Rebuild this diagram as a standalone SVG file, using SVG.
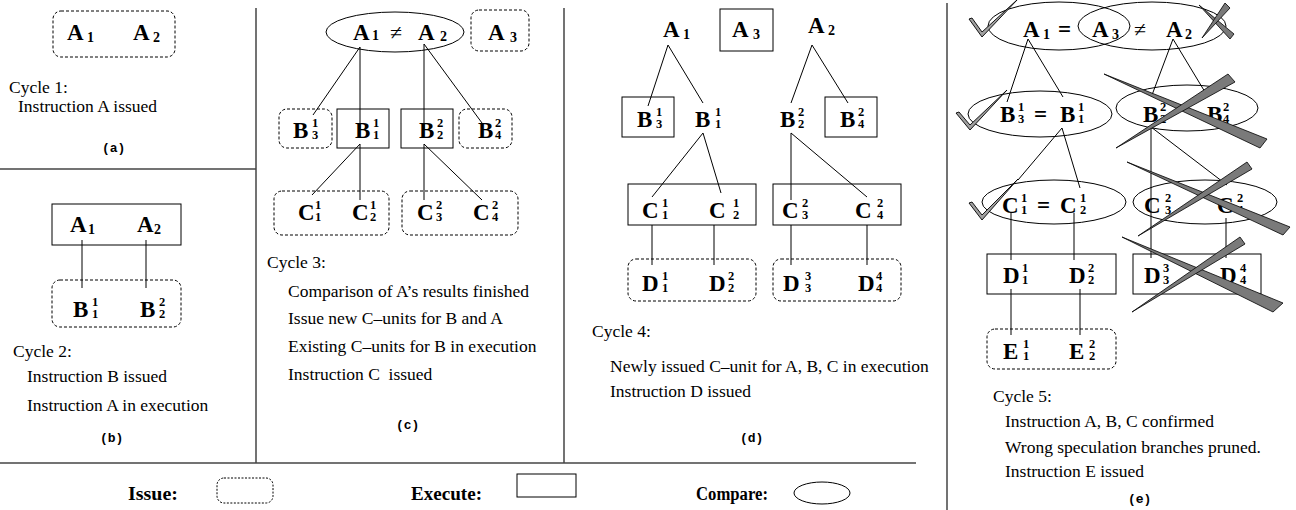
<svg xmlns="http://www.w3.org/2000/svg" width="1296" height="510" viewBox="0 0 1296 510">
<style>
text { font-family: "Liberation Serif", "Times New Roman", serif; fill: #000; }
.m { font-size: 23px; font-weight: bold; }
.s { font-size: 14px; font-weight: bold; }
.n { font-size: 12.5px; font-weight: bold; }
.op { font-size: 22px; }
.eq { font-size: 23px; font-weight: bold; }
.b { font-size: 17.5px; }
.cap { font-family: "Liberation Mono", "Courier New", monospace; font-weight: bold; font-size: 13px; }
.leg { font-size: 18px; font-weight: bold; }
.issue { fill: none; stroke: #000; stroke-width: 1; stroke-dasharray: 3 2; }
.exec { fill: none; stroke: #000; stroke-width: 1; }
.cmp { fill: none; stroke: #000; stroke-width: 1; }
.conn line { stroke: #000; stroke-width: 1; }
.sep line { stroke: #444; stroke-width: 1.5; }
.x { fill: #7a7a7a; stroke: #000; stroke-width: 0.8; stroke-linejoin: round; }
.ck { fill: #a0a0a0; stroke: #000; stroke-width: 0.9; stroke-linejoin: miter; }
</style>
<rect width="1296" height="510" fill="#fff"/>

<g id="separators" class="sep">
<line x1="256" y1="8" x2="256" y2="463"/>
<line x1="0" y1="169" x2="256" y2="169"/>
<line x1="564" y1="8" x2="564" y2="463"/>
<line x1="0" y1="463" x2="916" y2="463"/>
<line x1="947" y1="3" x2="947" y2="510"/>
</g>

<g id="connectors" class="conn">
<line x1="82" y1="240" x2="82" y2="288"/>
<line x1="146" y1="240" x2="146" y2="288"/>
<line x1="360" y1="47" x2="313" y2="115"/>
<line x1="360" y1="47" x2="360" y2="130"/>
<line x1="424" y1="44" x2="424" y2="130"/>
<line x1="424" y1="44" x2="482" y2="123"/>
<line x1="360" y1="144" x2="312" y2="195"/>
<line x1="360" y1="144" x2="360" y2="200"/>
<line x1="424" y1="144" x2="424" y2="200"/>
<line x1="424" y1="144" x2="482" y2="200"/>
<line x1="668" y1="45" x2="648" y2="106"/>
<line x1="668" y1="45" x2="703" y2="103"/>
<line x1="812" y1="45" x2="791" y2="103"/>
<line x1="812" y1="45" x2="848" y2="103"/>
<line x1="703" y1="133" x2="652" y2="197"/>
<line x1="703" y1="133" x2="721" y2="193"/>
<line x1="791" y1="133" x2="791" y2="200"/>
<line x1="791" y1="133" x2="867" y2="197"/>
<line x1="652" y1="225" x2="652" y2="265"/>
<line x1="714" y1="225" x2="714" y2="265"/>
<line x1="791" y1="225" x2="791" y2="265"/>
<line x1="867" y1="225" x2="867" y2="265"/>
<line x1="1028" y1="39" x2="1007" y2="102"/>
<line x1="1028" y1="39" x2="1063" y2="97"/>
<line x1="1173" y1="39" x2="1152" y2="95"/>
<line x1="1173" y1="39" x2="1208" y2="97"/>
<line x1="1062" y1="128" x2="1018" y2="180"/>
<line x1="1062" y1="128" x2="1080" y2="188"/>
<line x1="1151" y1="127" x2="1151" y2="258"/>
<line x1="1151" y1="127" x2="1227" y2="185"/>
<line x1="1011" y1="213" x2="1011" y2="260"/>
<line x1="1074" y1="213" x2="1074" y2="260"/>
<line x1="1226" y1="218" x2="1226" y2="258"/>
<line x1="1011" y1="289" x2="1011" y2="335"/>
<line x1="1080" y1="289" x2="1080" y2="335"/>
</g>

<g id="a-issue-A">
<rect class="issue" x="53" y="11" width="122" height="46" rx="8"/>
<text class="m" x="67" y="40">A</text><text class="s" x="87" y="42">1</text>
<text class="m" x="133" y="40">A</text><text class="s" x="153" y="42">2</text>
</g>
<g id="a-text">
<text class="b" x="9" y="93">Cycle 1:</text>
<text class="b" x="18" y="112">Instruction A issued</text>
<text class="cap" x="102" y="152">(a)</text>
</g>

<g id="b-exec-A">
<rect class="exec" x="52" y="204" width="129" height="41"/>
<text class="m" x="70" y="232">A</text><text class="s" x="88" y="234">1</text>
<text class="m" x="137" y="232">A</text><text class="s" x="154" y="234">2</text>
</g>
<g id="b-issue-B">
<rect class="issue" x="52" y="280" width="129" height="47" rx="8"/>
<text class="m" x="73" y="317">B</text><text class="n" x="92" y="306">1</text><text class="n" x="92" y="318">1</text>
<text class="m" x="140" y="317">B</text><text class="n" x="159" y="306">2</text><text class="n" x="159" y="318">2</text>
</g>
<g id="b-text">
<text class="b" x="13" y="357">Cycle 2:</text>
<text class="b" x="27" y="382">Instruction B issued</text>
<text class="b" x="27" y="411">Instruction A in execution</text>
<text class="cap" x="100" y="442">(b)</text>
</g>

<g id="c-cmp-A">
<ellipse class="cmp" cx="395" cy="32" rx="69" ry="20"/>
<text class="m" x="353" y="40">A</text><text class="s" x="372" y="40">1</text>
<text class="op" x="390" y="40">≠</text>
<text class="m" x="418" y="40">A</text><text class="s" x="440" y="41">2</text>
</g>
<g id="c-issue-A3">
<rect class="issue" x="471" y="10" width="58" height="41" rx="8"/>
<text class="m" x="488" y="40">A</text><text class="s" x="510" y="42">3</text>
</g>
<g id="c-issue-B3">
<rect class="issue" x="279" y="109" width="53" height="39" rx="8"/>
<text class="m" x="293" y="138">B</text><text class="n" x="312" y="127">1</text><text class="n" x="312" y="139">3</text>
</g>
<g id="c-exec-B1">
<rect class="exec" x="337" y="109" width="52" height="39"/>
<text class="m" x="355" y="138">B</text><text class="n" x="373" y="127">1</text><text class="n" x="373" y="139">1</text>
</g>
<g id="c-exec-B2">
<rect class="exec" x="401" y="109" width="52" height="39"/>
<text class="m" x="419" y="138">B</text><text class="n" x="437" y="127">2</text><text class="n" x="437" y="139">2</text>
</g>
<g id="c-issue-B4">
<rect class="issue" x="459" y="109" width="53" height="39" rx="8"/>
<text class="m" x="478" y="138">B</text><text class="n" x="495" y="127">2</text><text class="n" x="495" y="139">4</text>
</g>
<g id="c-issue-C12">
<rect class="issue" x="274" y="191" width="115" height="44" rx="8"/>
<text class="m" x="298" y="220">C</text><text class="n" x="315" y="209">1</text><text class="n" x="315" y="221">1</text>
<text class="m" x="352" y="220">C</text><text class="n" x="370" y="209">1</text><text class="n" x="370" y="221">2</text>
</g>
<g id="c-issue-C34">
<rect class="issue" x="402" y="191" width="116" height="44" rx="8"/>
<text class="m" x="417" y="220">C</text><text class="n" x="436" y="209">2</text><text class="n" x="436" y="221">3</text>
<text class="m" x="473" y="220">C</text><text class="n" x="492" y="209">2</text><text class="n" x="492" y="221">4</text>
</g>
<g id="c-text">
<text class="b" x="267" y="268">Cycle 3:</text>
<text class="b" x="288" y="297">Comparison of A’s results finished</text>
<text class="b" x="288" y="324">Issue new C–units for B and A</text>
<text class="b" x="288" y="352">Existing C–units for B in execution</text>
<text class="b" x="288" y="380" xml:space="preserve">Instruction C  issued</text>
<text class="cap" x="396" y="429">(c)</text>
</g>

<g id="d-A1">
<text class="m" x="663" y="37">A</text><text class="s" x="683" y="39">1</text>
</g>
<g id="d-exec-A3">
<rect class="exec" x="720" y="9" width="53" height="42"/>
<text class="m" x="732" y="37">A</text><text class="s" x="753" y="39">3</text>
</g>
<g id="d-A2">
<text class="m" x="808" y="33">A</text><text class="s" x="828" y="35">2</text>
</g>
<g id="d-exec-B3">
<rect class="exec" x="622" y="97" width="52" height="40"/>
<text class="m" x="637" y="127">B</text><text class="n" x="656" y="116">1</text><text class="n" x="656" y="128">3</text>
</g>
<g id="d-B1">
<text class="m" x="695" y="127">B</text><text class="n" x="715" y="116">1</text><text class="n" x="715" y="128">1</text>
</g>
<g id="d-B2">
<text class="m" x="780" y="127">B</text><text class="n" x="798" y="116">2</text><text class="n" x="798" y="128">2</text>
</g>
<g id="d-exec-B4">
<rect class="exec" x="825" y="97" width="52" height="40"/>
<text class="m" x="840" y="127">B</text><text class="n" x="858" y="116">2</text><text class="n" x="858" y="128">4</text>
</g>
<g id="d-exec-C12">
<rect class="exec" x="628" y="184" width="128" height="41"/>
<text class="m" x="642" y="218">C</text><text class="n" x="662" y="207">1</text><text class="n" x="662" y="219">1</text>
<text class="m" x="709" y="218">C</text><text class="n" x="733" y="207">1</text><text class="n" x="733" y="219">2</text>
</g>
<g id="d-exec-C34">
<rect class="exec" x="773" y="184" width="128" height="41"/>
<text class="m" x="782" y="218">C</text><text class="n" x="802" y="207">2</text><text class="n" x="802" y="219">3</text>
<text class="m" x="855" y="218">C</text><text class="n" x="877" y="207">2</text><text class="n" x="877" y="219">4</text>
</g>
<g id="d-issue-D12">
<rect class="issue" x="628" y="259" width="128" height="42" rx="8"/>
<text class="m" x="642" y="291">D</text><text class="n" x="662" y="280">1</text><text class="n" x="662" y="292">1</text>
<text class="m" x="709" y="291">D</text><text class="n" x="728" y="280">2</text><text class="n" x="728" y="292">2</text>
</g>
<g id="d-issue-D34">
<rect class="issue" x="773" y="259" width="128" height="42" rx="8"/>
<text class="m" x="783" y="291">D</text><text class="n" x="805" y="280">3</text><text class="n" x="805" y="292">3</text>
<text class="m" x="858" y="291">D</text><text class="n" x="876" y="280">4</text><text class="n" x="876" y="292">4</text>
</g>
<g id="d-text">
<text class="b" x="592" y="337">Cycle 4:</text>
<text class="b" x="610" y="372">Newly issued C–unit for A, B, C in execution</text>
<text class="b" x="610" y="397">Instruction D issued</text>
<text class="cap" x="740" y="442">(d)</text>
</g>

<g id="e-cmp-A">
<ellipse class="cmp" cx="1059" cy="26" rx="71" ry="24"/>
<ellipse class="cmp" cx="1152" cy="26" rx="74" ry="24"/>
<text class="m" x="1023" y="37">A</text><text class="s" x="1043" y="39">1</text>
<text class="eq" x="1058" y="37">=</text>
<text class="m" x="1092" y="37">A</text><text class="s" x="1112" y="39">3</text>
<text class="op" x="1134" y="37">≠</text>
<text class="m" x="1166" y="37">A</text><text class="s" x="1185" y="39">2</text>
</g>
<g id="e-cmp-B13">
<ellipse class="cmp" cx="1040" cy="114" rx="72" ry="23"/>
<text class="m" x="1000" y="122">B</text><text class="n" x="1018" y="111">1</text><text class="n" x="1018" y="123">3</text>
<text class="eq" x="1034" y="122">=</text>
<text class="m" x="1060" y="122">B</text><text class="n" x="1078" y="111">1</text><text class="n" x="1078" y="123">1</text>
</g>
<g id="e-cmp-B24">
<ellipse class="cmp" cx="1187" cy="108" rx="71" ry="23"/>
<text class="m" x="1143" y="122">B</text><text class="n" x="1160" y="111">2</text><text class="n" x="1160" y="123">2</text>
<text class="m" x="1207" y="122">B</text><text class="n" x="1223" y="111">2</text><text class="n" x="1223" y="123">4</text>
</g>
<g id="e-cmp-C12">
<ellipse class="cmp" cx="1054" cy="202" rx="72" ry="22"/>
<text class="m" x="1002" y="213">C</text><text class="n" x="1021" y="202">1</text><text class="n" x="1021" y="214">1</text>
<text class="eq" x="1037" y="213">=</text>
<text class="m" x="1060" y="213">C</text><text class="n" x="1080" y="202">1</text><text class="n" x="1080" y="214">2</text>
</g>
<g id="e-cmp-C34">
<ellipse class="cmp" cx="1205" cy="202" rx="72" ry="22"/>
<text class="m" x="1144" y="213">C</text><text class="n" x="1165" y="202">2</text><text class="n" x="1165" y="214">3</text>
<text class="m" x="1217" y="213">C</text><text class="n" x="1237" y="202">2</text><text class="n" x="1237" y="214">4</text>
</g>
<g id="e-exec-D12">
<rect class="exec" x="987" y="254" width="129" height="40"/>
<text class="m" x="1003" y="283">D</text><text class="n" x="1022" y="272">1</text><text class="n" x="1022" y="284">1</text>
<text class="m" x="1069" y="283">D</text><text class="n" x="1088" y="272">2</text><text class="n" x="1088" y="284">2</text>
</g>
<g id="e-exec-D34">
<rect class="exec" x="1133" y="254" width="128" height="40"/>
<text class="m" x="1144" y="283">D</text><text class="n" x="1163" y="272">3</text><text class="n" x="1163" y="284">3</text>
<text class="m" x="1220" y="283">D</text><text class="n" x="1240" y="272">4</text><text class="n" x="1240" y="284">4</text>
</g>
<g id="e-issue-E12">
<rect class="issue" x="987" y="329" width="129" height="40" rx="8"/>
<text class="m" x="1003" y="359">E</text><text class="n" x="1023" y="348">1</text><text class="n" x="1023" y="360">1</text>
<text class="m" x="1069" y="359">E</text><text class="n" x="1089" y="348">2</text><text class="n" x="1089" y="360">2</text>
</g>
<g id="e-marks">
<polygon class="ck" points="969,19 982,37 1018,-1 982,32 972,18"/>
<polygon class="ck" points="956,113 970,130 1007,90 970,125 959,112"/>
<polygon class="ck" points="969,203 982,220 1018,179 982,215 972,202"/>
<polygon class="x" points="1199,5 1234,34 1230,39"/>
<polygon class="x" points="1202,38 1225,3 1230,8"/>
<polygon class="x" points="1104,74 1267,139 1260,148"/>
<polygon class="x" points="1116,148 1228,74 1235,82"/>
<polygon class="x" points="1127,162 1290,227 1283,235"/>
<polygon class="x" points="1138,236 1247,162 1252,169"/>
<polygon class="x" points="1122,237 1283,303 1273,312"/>
<polygon class="x" points="1132,312 1240,237 1245,244"/>
</g>
<g id="e-text">
<text class="b" x="993" y="402">Cycle 5:</text>
<text class="b" x="1005" y="427">Instruction A, B, C confirmed</text>
<text class="b" x="1005" y="453">Wrong speculation branches pruned.</text>
<text class="b" x="1005" y="477">Instruction E issued</text>
<text class="cap" x="1128" y="503">(e)</text>
</g>

<g id="legend-issue">
<text class="leg" x="128" y="500" textLength="50" lengthAdjust="spacingAndGlyphs">Issue:</text>
<rect class="issue" x="217" y="478" width="56" height="25" rx="7" style="stroke-dasharray:2 1.5"/>
</g>
<g id="legend-execute">
<text class="leg" x="411" y="500" textLength="71" lengthAdjust="spacingAndGlyphs">Execute:</text>
<rect class="exec" x="517" y="474" width="59" height="23"/>
</g>
<g id="legend-compare">
<text class="leg" x="696" y="500" textLength="72" lengthAdjust="spacingAndGlyphs">Compare:</text>
<ellipse class="cmp" cx="822" cy="493" rx="28" ry="11"/>
</g>
</svg>
